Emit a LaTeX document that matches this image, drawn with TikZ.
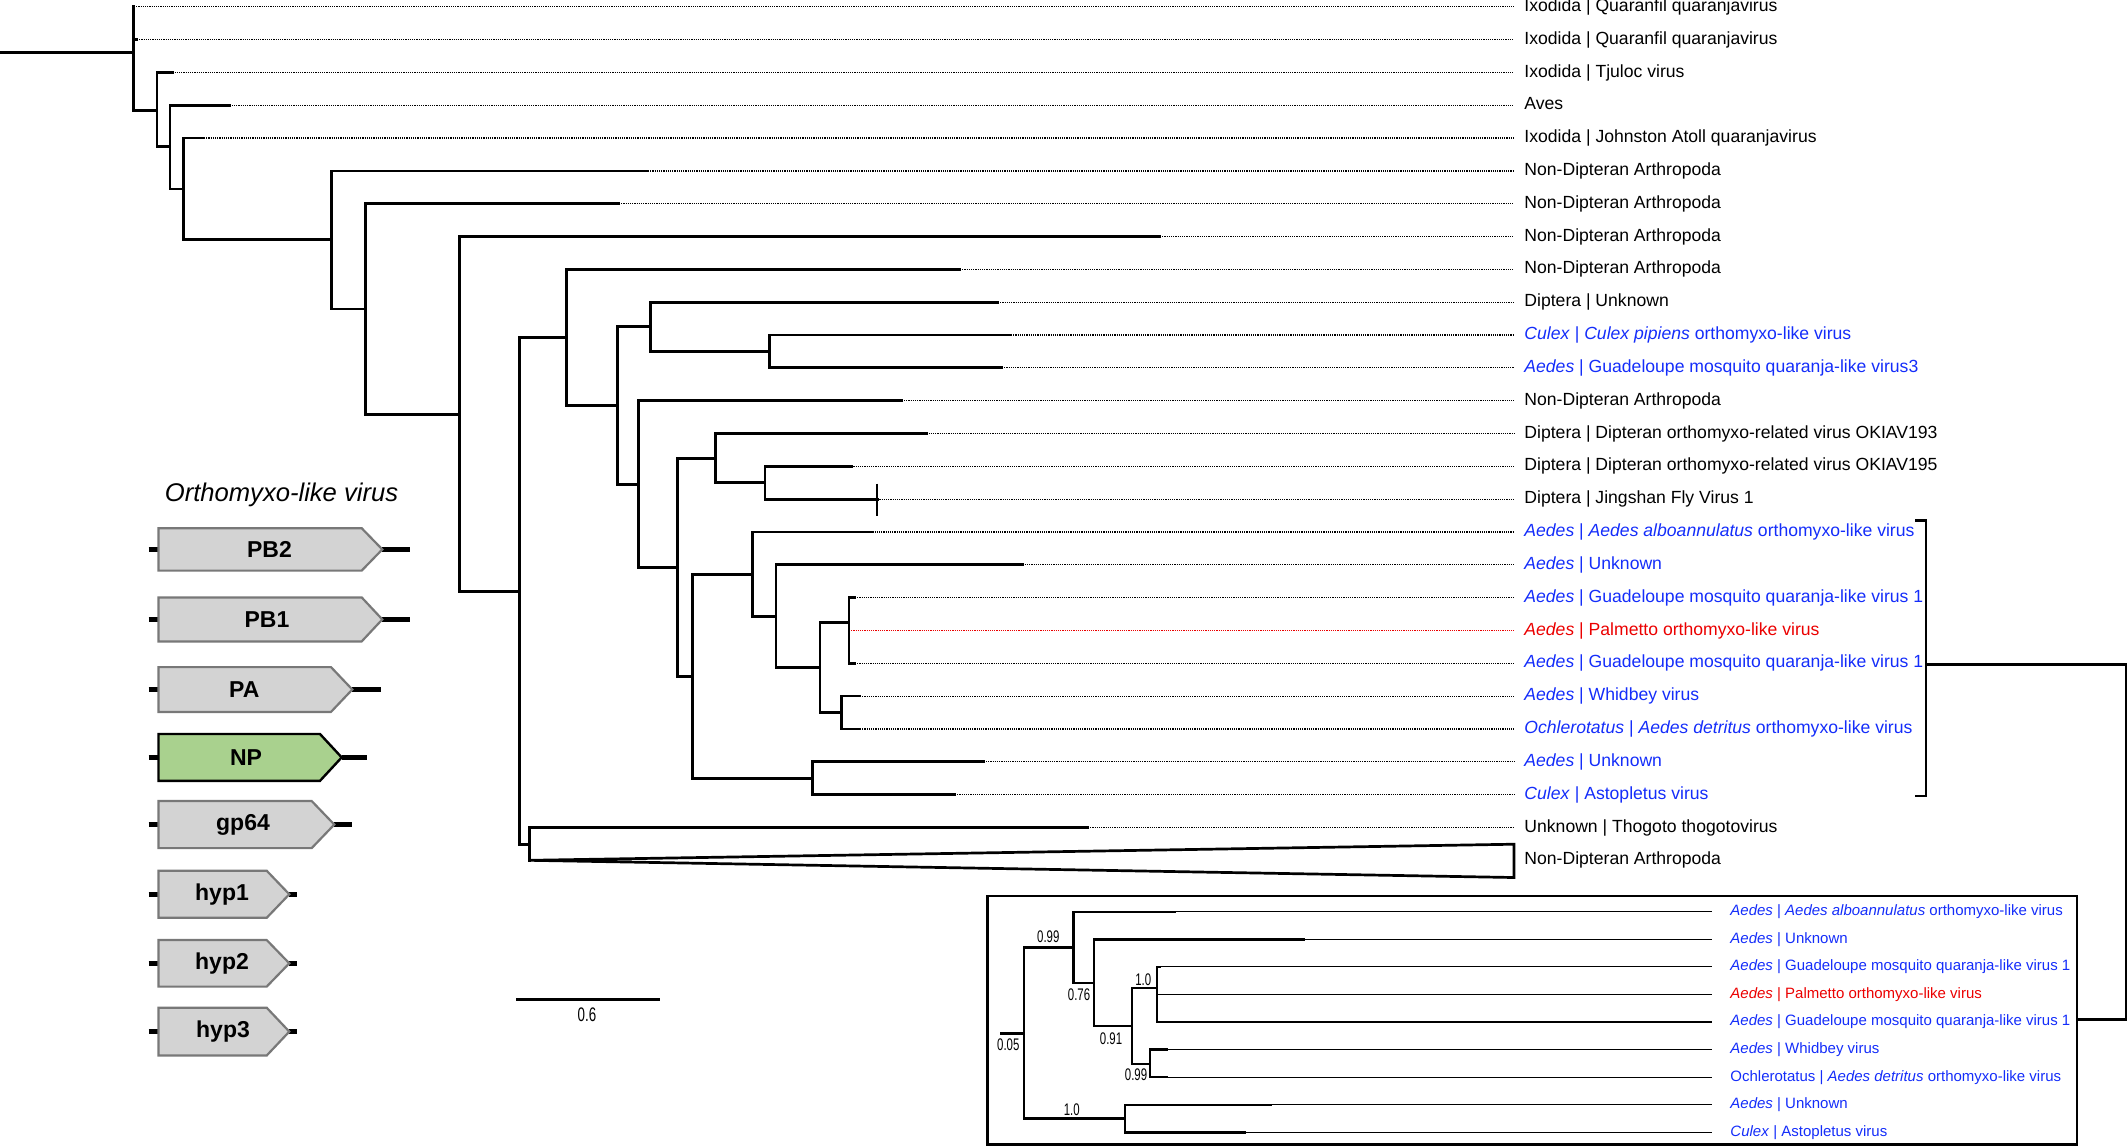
\documentclass[tikz,border=0pt]{standalone}
\usepackage{fontspec}
\setmainfont{Liberation Sans}
\newfontfamily\narrowf{Liberation Sans}[FakeStretch=0.68]
\definecolor{lblue}{RGB}{20,45,250}
\definecolor{lred}{RGB}{235,0,0}
\definecolor{gfill}{RGB}{211,211,211}
\definecolor{gline}{RGB}{120,120,120}
\definecolor{npfill}{RGB}{169,209,142}
\tikzset{
  br/.style={line width=1.35pt, line join=miter, line cap=rect},
  ibr/.style={line width=1.2pt, line join=miter, line cap=rect},
  ithin/.style={line width=0.55pt},
  dotl/.style={line width=0.6pt, dash pattern=on 0.6pt off 0.5pt},
  lbl/.style={anchor=west, inner xsep=5pt, inner ysep=0pt, text height=6.5pt, text depth=1.9pt,
    font=\fontsize{8.8pt}{10pt}\selectfont},
  ilbl/.style={anchor=west, inner xsep=9pt, inner ysep=0pt, text height=5.5pt, text depth=1.6pt,
    font=\fontsize{7.5pt}{9pt}\selectfont},
  suplbl/.style={inner sep=0pt, font=\narrowf\fontsize{8.4pt}{9pt}\selectfont},
  gbox/.style={fill=gfill, draw=gline, line width=1.1pt, line join=miter},
  gboxnp/.style={fill=npfill, draw=black, line width=1.2pt, line join=miter},
  stubl/.style={line width=2.6pt},
  genelbl/.style={inner sep=0pt, font=\bfseries\fontsize{11.5pt}{13pt}\selectfont},
}
% name parent endx y textcolor linecolor text
\newcommand\leafA[7]{%
  \coordinate (#1) at (#3,#4);
  \draw[br] (#2) |- (#1);
  \node[lbl,text=#5] (#1l) at (1514,#4) {#7};
  \draw[dotl,draw=#6] (#1) -- (#1l.west);}
% name parent thickend y color text
\newcommand\ileaf[6]{%
  \coordinate (#1) at (#3,#4);
  \draw[ibr] (#2) |- (#1);
  \node[ilbl,text=#5] (#1l) at (1712,#4) {#6};
  \draw[ithin] (#1) -- (#1l.west);}
% name top bot rectright tip rightstubend labelx label style
\newcommand\genebox[9]{%
  \coordinate (#1t) at (#5,{(#2+#3)/2});
  \coordinate (#1s) at (148.5,{(#2+#3)/2});
  \coordinate (#1e) at (#6,{(#2+#3)/2});
  \draw[stubl] (#1s) -- (160,{(#2+#3)/2});
  \draw[stubl] (#1t) -- (#1e);
  \draw[#9] (158.5,#2) -- (#4,#2) -- (#1t) -- (#4,#3) -- (158.5,#3) -- cycle;
  \node[genelbl] (#1) at (#7,{(#2+#3)/2}) {#8};}
\begin{document}
\begin{tikzpicture}[x=0.5pt,y=-0.5pt]
\useasboundingbox (0,0) rectangle (2128,1147);
% ---------------- main tree ----------------
\coordinate (rootin) at (0,52.3);
\coordinate (root) at (133.5,52.3);
\draw[br] (rootin) -- (root);
\leafA{l0}{root}{134}{6.7}{black}{black}{Ixodida | Quaranfil quaranjavirus}
\leafA{l1}{root}{137}{39.5}{black}{black}{Ixodida | Quaranfil quaranjavirus}
\coordinate (A) at (157,110.3); \draw[br] (root) |- (A);
\leafA{l2}{A}{172.4}{72.4}{black}{black}{Ixodida | Tjuloc virus}
\coordinate (B) at (170,146.7); \draw[br] (A) |- (B);
\leafA{l3}{B}{229.6}{105.2}{black}{black}{Aves}
\coordinate (C) at (183.7,189); \draw[br] (B) |- (C);
\leafA{l4}{C}{204}{138}{black}{black}{Ixodida | Johnston Atoll quaranjavirus}
\coordinate (D) at (331.6,239.7); \draw[br] (C) |- (D);
\leafA{l5}{D}{648}{170.9}{black}{black}{Non-Dipteran Arthropoda}
\coordinate (E) at (365.6,309); \draw[br] (D) |- (E);
\leafA{l6}{E}{619}{203.7}{black}{black}{Non-Dipteran Arthropoda}
\coordinate (F) at (459.6,414.3); \draw[br] (E) |- (F);
\leafA{l7}{F}{1160}{236.5}{black}{black}{Non-Dipteran Arthropoda}
\coordinate (G) at (519.3,591.5); \draw[br] (F) |- (G);
\coordinate (H) at (566.3,337.6); \draw[br] (G) |- (H);
\leafA{l8}{H}{960}{269.3}{black}{black}{Non-Dipteran Arthropoda}
\coordinate (I) at (617.5,405.8); \draw[br] (H) |- (I);
\coordinate (J) at (650.5,326.8); \draw[br] (I) |- (J);
\leafA{l9}{J}{998}{302.2}{black}{black}{Diptera | Unknown}
\coordinate (K) at (769.8,351.4); \draw[br] (J) |- (K);
\leafA{l10}{K}{1011}{335}{lblue}{black}{\textit{Culex} | \textit{Culex pipiens} orthomyxo-like virus}
\leafA{l11}{K}{1002}{367.8}{lblue}{black}{\textit{Aedes} | Guadeloupe mosquito quaranja-like virus3}
\coordinate (L) at (638.6,484.2); \draw[br] (I) |- (L);
\leafA{l12}{L}{901.8}{400.7}{black}{black}{Non-Dipteran Arthropoda}
\coordinate (M) at (677.2,567.8); \draw[br] (L) |- (M);
\coordinate (N) at (715.8,458.5); \draw[br] (M) |- (N);
\leafA{l13}{N}{926.3}{433.5}{black}{black}{Diptera | Dipteran orthomyxo-related virus OKIAV193}
\coordinate (O) at (765,482.8); \draw[br] (N) |- (O);
\leafA{l14}{O}{851.2}{466.3}{black}{black}{Diptera | Dipteran orthomyxo-related virus OKIAV195}
\leafA{l15}{O}{877.2}{499.2}{black}{black}{Diptera | Jingshan Fly Virus 1}
\coordinate (jt1) at (877.2,483.6); \coordinate (jt2) at (877.2,515.6);
\draw[line width=0.9pt] (jt1) -- (jt2);
\coordinate (P) at (692.6,676.8); \draw[br] (M) |- (P);
\coordinate (Q) at (752.3,574.5); \draw[br] (P) |- (Q);
\leafA{l16}{Q}{870.2}{532}{lblue}{black}{\textit{Aedes} | \textit{Aedes alboannulatus} orthomyxo-like virus}
\coordinate (R) at (776,616.6); \draw[br] (Q) |- (R);
\leafA{l17}{R}{1022.5}{564.8}{lblue}{black}{\textit{Aedes} | Unknown}
\coordinate (S) at (820,667.8); \draw[br] (R) |- (S);
\coordinate (T) at (849,622.6); \draw[br] (S) |- (T);
\leafA{l18}{T}{855}{597.6}{lblue}{black}{\textit{Aedes} | Guadeloupe mosquito quaranja-like virus 1}
\leafA{l19}{T}{849}{630.5}{lred}{lred}{\textit{Aedes} | Palmetto orthomyxo-like virus}
\leafA{l20}{T}{855}{663.3}{lblue}{black}{\textit{Aedes} | Guadeloupe mosquito quaranja-like virus 1}
\coordinate (U) at (841.5,712.7); \draw[br] (S) |- (U);
\leafA{l21}{U}{860}{696.1}{lblue}{black}{\textit{Aedes} | Whidbey virus}
\leafA{l22}{U}{860}{729}{lblue}{black}{\textit{Ochlerotatus} | \textit{Aedes detritus} orthomyxo-like virus}
\coordinate (V) at (812.6,778.2); \draw[br] (P) |- (V);
\leafA{l23}{V}{983.7}{761.8}{lblue}{black}{\textit{Aedes} | Unknown}
\leafA{l24}{V}{955}{794.6}{lblue}{black}{\textit{Culex} | Astopletus virus}
\coordinate (W) at (529.8,844.5); \draw[br] (G) |- (W);
\leafA{l25}{W}{1088}{827.5}{black}{black}{Unknown | Thogoto thogotovirus}
\coordinate (apex) at (529.8,860.3); \draw[br] (W) -- (apex);
\coordinate (tri1) at (1514,844.2); \coordinate (tri2) at (1514,877.5);
\draw[br] (apex) -- (tri1) -- (tri2) -- cycle;
\node[lbl] (l26l) at (1514,860.3) {Non-Dipteran Arthropoda};
% ---------------- bracket and link ----------------
\coordinate (b1) at (1916,520.4); \coordinate (b2) at (1926,520.4);
\coordinate (b3) at (1926,796); \coordinate (b4) at (1916,796);
\draw[br] (b1) -- (b2) -- (b3) -- (b4);
\coordinate (bm) at (1926,664.2); \coordinate (bd) at (2126,1019.3);
\coordinate (boxr) at (2077,1019.3);
\draw[br] (bm) -| (bd) -- (boxr);
% ---------------- inset ----------------
\coordinate (ibox1) at (987.7,896); \coordinate (ibox2) at (2077,1144.5);
\draw[br] (ibox1) rectangle (ibox2);
\coordinate (iin) at (1001,1033.3); \coordinate (ir) at (1023.7,1033.3);
\draw[ibr] (iin) -- (ir);
\coordinate (ia) at (1073.3,947.3); \draw[ibr] (ir) |- (ia);
\ileaf{i0}{ia}{1174.3}{911.7}{lblue}{\textit{Aedes} | \textit{Aedes alboannulatus} orthomyxo-like virus}
\coordinate (ib) at (1094,982.7); \draw[ibr] (ia) |- (ib);
\ileaf{i1}{ib}{1303.6}{939.3}{lblue}{\textit{Aedes} | Unknown}
\coordinate (ic) at (1131.7,1026); \draw[ibr] (ib) |- (ic);
\coordinate (id) at (1156.7,987.7); \draw[ibr] (ic) |- (id);
\ileaf{i2}{id}{1160}{966.9}{lblue}{\textit{Aedes} | Guadeloupe mosquito quaranja-like virus 1}
\ileaf{i3}{id}{1156.7}{994.4}{lred}{\textit{Aedes} | Palmetto orthomyxo-like virus}
\ileaf{i4}{id}{1160}{1022}{lblue}{\textit{Aedes} | Guadeloupe mosquito quaranja-like virus 1}
\coordinate (ie) at (1150,1064); \draw[ibr] (ic) |- (ie);
\ileaf{i5}{ie}{1166.7}{1049.6}{lblue}{\textit{Aedes} | Whidbey virus}
\ileaf{i6}{ie}{1166.7}{1077.2}{lblue}{Ochlerotatus | \textit{Aedes detritus} orthomyxo-like virus}
\coordinate (iv) at (1125,1118.6); \draw[ibr] (ir) |- (iv);
\ileaf{i7}{iv}{1270.6}{1104.8}{lblue}{\textit{Aedes} | Unknown}
\ileaf{i8}{iv}{1245}{1132.3}{lblue}{\textit{Culex} | Astopletus virus}
\node[suplbl] (s1) at (1048.3,936.7) {0.99};
\node[suplbl] (s2) at (1079,995) {0.76};
\node[suplbl] (s3) at (1111,1038.3) {0.91};
\node[suplbl] (s4) at (1143.3,980) {1.0};
\node[suplbl] (s5) at (1136,1075) {0.99};
\node[suplbl] (s6) at (1071.7,1110) {1.0};
\node[suplbl] (s7) at (1008.3,1045) {0.05};
% ---------------- scale bar ----------------
\coordinate (sb1) at (516,999.3); \coordinate (sb2) at (660,999.3);
\draw[br,line cap=butt] (sb1) -- (sb2);
\node[inner sep=0pt, font=\narrowf\fontsize{9.8pt}{10pt}\selectfont] (sbl) at (587,1015) {0.6};
% ---------------- genome legend ----------------
\node[inner sep=0pt, font=\itshape\fontsize{12.8pt}{14pt}\selectfont] (title) at (281.5,495) {Orthomyxo-like virus};
\genebox{pb2}{528.2}{570.6}{361.7}{382.3}{410}{269.5}{PB2}{gbox}
\genebox{pb1}{597.4}{641.4}{361.7}{382.3}{410}{267}{PB1}{gbox}
\genebox{pa}{667.1}{711.9}{331}{352.3}{381}{244.3}{PA}{gbox}
\genebox{np}{734}{780.8}{320}{341.7}{366.7}{246}{NP}{gboxnp}
\genebox{gp}{801}{848.1}{311.7}{334.3}{352.3}{243}{gp64}{gbox}
\genebox{hypA}{870.7}{917.8}{266.7}{289.3}{297.3}{222}{hyp1}{gbox}
\genebox{hypB}{940}{986.6}{266.7}{289.3}{297.3}{222}{hyp2}{gbox}
\genebox{hypC}{1007.7}{1055.5}{266.7}{289.3}{297.3}{223}{hyp3}{gbox}
\end{tikzpicture}
\end{document}
